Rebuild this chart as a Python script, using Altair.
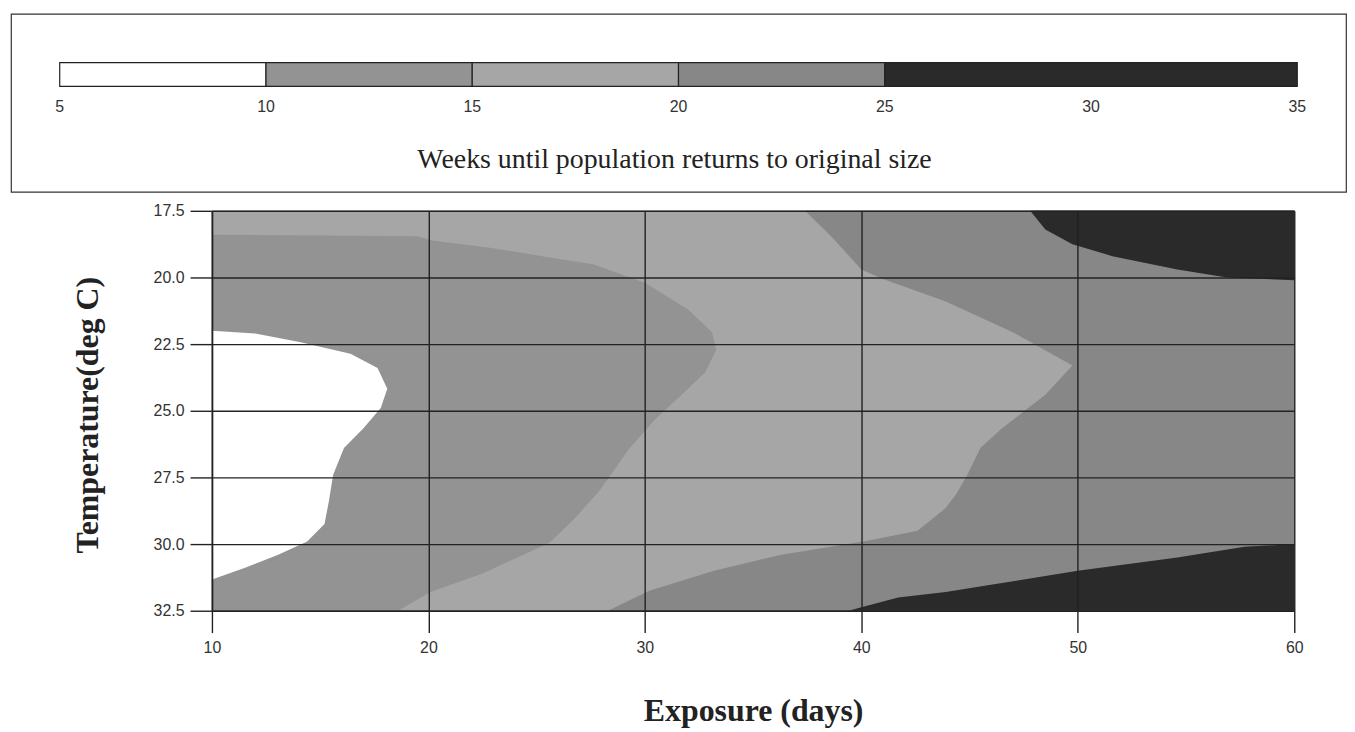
import altair as alt
import pandas as pd

# ---- categories (weeks until population returns to original size) ----
BANDS = ["5-10", "10-15", "15-20", "20-25", "25-35"]
BAND_LO = [5, 10, 15, 20, 25]
BAND_HI = [10, 15, 20, 25, 35]
BAND_FILLS = ["#ffffff", "#939393", "#a6a6a6", "#878787", "#2a2a2a"]
LEGEND_TICKS = [5, 10, 15, 20, 25, 30, 35]

# ---- contour boundaries: left edge (exposure days) of each band per temperature ----
DAYS_MAX = 60

TEMP_B0 = [17.5, 32.5]
DAYS_B0 = [10, 10]

TEMP_B1 = [17.5, 22.0, 22.1, 22.43, 22.86, 23.4, 24.17, 24.9, 25.66, 26.4, 27.4,
           28.4, 29.25, 29.9, 30.4, 30.9, 31.3, 31.35, 32.5]
DAYS_B1 = [10, 10, 12.0, 14.1, 16.4, 17.65, 18.1, 17.8, 17.0, 16.1, 15.6,
           15.4, 15.2, 14.4, 13.06, 11.5, 10.1, 10, 10]

TEMP_B2 = [17.5, 18.4, 18.45, 18.6, 18.9, 19.25, 19.5, 20.2, 21.2, 22.05, 22.7,
           23.55, 24.4, 25.3, 26.4, 28.0, 29.0, 29.95, 31.1, 31.8, 32.5]
DAYS_B2 = [10, 10, 19.5, 20.1, 23.0, 25.6, 27.6, 30.0, 32.0, 33.1, 33.3,
           32.8, 31.7, 30.5, 29.3, 27.9, 26.8, 25.6, 22.5, 20.1, 18.6]

TEMP_B3 = [17.5, 18.45, 19.7, 20.06, 20.9, 22.05, 23.3, 24.4, 25.66, 26.4, 27.4,
           28.1, 28.65, 29.5, 29.9, 30.4, 31.0, 31.75, 32.5]
DAYS_B3 = [37.4, 38.6, 40.0, 41.0, 43.9, 47.0, 49.75, 48.5, 46.5, 45.5, 44.9,
           44.4, 43.9, 42.6, 40.1, 36.3, 33.2, 30.2, 28.3]

TEMP_B4 = [17.5, 18.2, 18.75, 19.2, 19.7, 20.0, 20.1, 29.9, 30.0, 30.1, 30.5,
           31.0, 31.5, 31.8, 32.0, 32.5]
DAYS_B4 = [47.8, 48.5, 49.75, 51.6, 54.6, 56.9, 60, 60, 60, 57.7, 54.6,
           50.0, 46.2, 43.9, 41.7, 39.4]

X_TICKS = [10, 20, 30, 40, 50, 60]
Y_TICKS = [17.5, 20.0, 22.5, 25.0, 27.5, 30.0, 32.5]

rows = []
for band, temps, days in zip(BANDS,
                             [TEMP_B0, TEMP_B1, TEMP_B2, TEMP_B3, TEMP_B4],
                             [DAYS_B0, DAYS_B1, DAYS_B2, DAYS_B3, DAYS_B4]):
    for t, d in zip(temps, days):
        rows.append({"band": band, "temp": t, "left": d, "right": DAYS_MAX})
df = pd.DataFrame(rows)

legend_df = pd.DataFrame({"band": BANDS, "lo": BAND_LO, "hi": BAND_HI})
ticks_df = pd.DataFrame({"tick": LEGEND_TICKS})
title_df = pd.DataFrame({"t": ["Weeks until population returns to original size"]})

color = alt.Color("band:N", scale=alt.Scale(domain=BANDS, range=BAND_FILLS), legend=None)

INK = "#222222"

x_axis = alt.Axis(values=X_TICKS, format="d", title="Exposure (days)",
                  titleFont="Liberation Serif", titleFontSize=32, titleFontWeight="bold",
                  titleColor=INK, titleX=544, titleY=110, titleBaseline="alphabetic",
                  labelFont="Liberation Sans", labelFontSize=16, labelColor="#333333",
                  labelPadding=7, labelFlush=False, tickSize=22, tickColor=INK, tickWidth=1.4,
                  grid=True, gridColor=INK, gridWidth=1.4, gridOpacity=1,
                  domainColor=INK, domainWidth=1.6, zindex=1)
y_axis = alt.Axis(values=Y_TICKS, format=".1f", title="Temperature(deg C)",
                  titleFont="Liberation Serif", titleFontSize=32, titleFontWeight="bold",
                  titleColor=INK, titleAngle=270, titleX=-125, titleY=205,
                  titleAlign="center", titleBaseline="middle",
                  labelFont="Liberation Sans", labelFontSize=16, labelColor="#333333",
                  labelPadding=6, labelFlush=False, tickSize=22, tickColor=INK, tickWidth=1.4,
                  grid=True, gridColor=INK, gridWidth=1.4, gridOpacity=1,
                  domainColor=INK, domainWidth=1.6, zindex=1)

x_enc = alt.X("left:Q", scale=alt.Scale(domain=[10, 60], nice=False, zero=False),
              axis=x_axis, stack=None)
y_enc = alt.Y("temp:Q", scale=alt.Scale(domain=[17.5, 32.5], reverse=True, nice=False, zero=False),
              axis=y_axis)

layers = []
for band in BANDS:
    layers.append(
        alt.Chart(df)
        .transform_filter(alt.datum.band == band)
        .mark_area(orient="horizontal", interpolate="linear")
        .encode(x=x_enc, x2="right:Q", y=y_enc, color=color)
    )

main = alt.layer(*layers).properties(width=1088, height=402,
                                     view=alt.ViewBackground(strokeWidth=0))

# ---- legend box ----
leg_x = alt.Scale(domain=[5, 35], range=[49, 1293], nice=False, zero=False)

bar = alt.Chart(legend_df).mark_rect(stroke=INK, strokeWidth=1.2).encode(
    x=alt.X("lo:Q", scale=leg_x, axis=None),
    x2="hi:Q",
    y=alt.value(49), y2=alt.value(73),
    color=color,
)
tick_labels = alt.Chart(ticks_df).mark_text(
    font="Liberation Sans", fontSize=16, color="#333333", baseline="middle"
).encode(
    x=alt.X("tick:Q", scale=leg_x, axis=None),
    y=alt.value(94),
    text=alt.Text("tick:Q", format="d"),
)
leg_title = alt.Chart(title_df).mark_text(
    font="Liberation Serif", fontSize=28, color=INK, baseline="alphabetic", align="center"
).encode(x=alt.value(667), y=alt.value(155), text="t:N")

legend = alt.layer(bar, tick_labels, leg_title).properties(
    width=1342, height=179,
    view=alt.ViewBackground(stroke="#333333", strokeWidth=1.2),
)

spacer = alt.Chart(pd.DataFrame({"s": [""]})).mark_text().encode(
    text="s:N", x=alt.value(0), y=alt.value(0)
).properties(width=61, height=10, view=alt.ViewBackground(strokeWidth=0))

lower = alt.hconcat(spacer, main, spacing=0).resolve_scale(x="independent", y="independent")

chart = alt.vconcat(legend, lower, spacing=10).resolve_scale(
    x="independent", y="independent"
).properties(
    padding={"left": 2, "top": 3, "right": 0, "bottom": 0}
).configure(background="white").configure_view(strokeWidth=0)

chart.save("out.html", embed_options={"renderer": "svg", "actions": False})
